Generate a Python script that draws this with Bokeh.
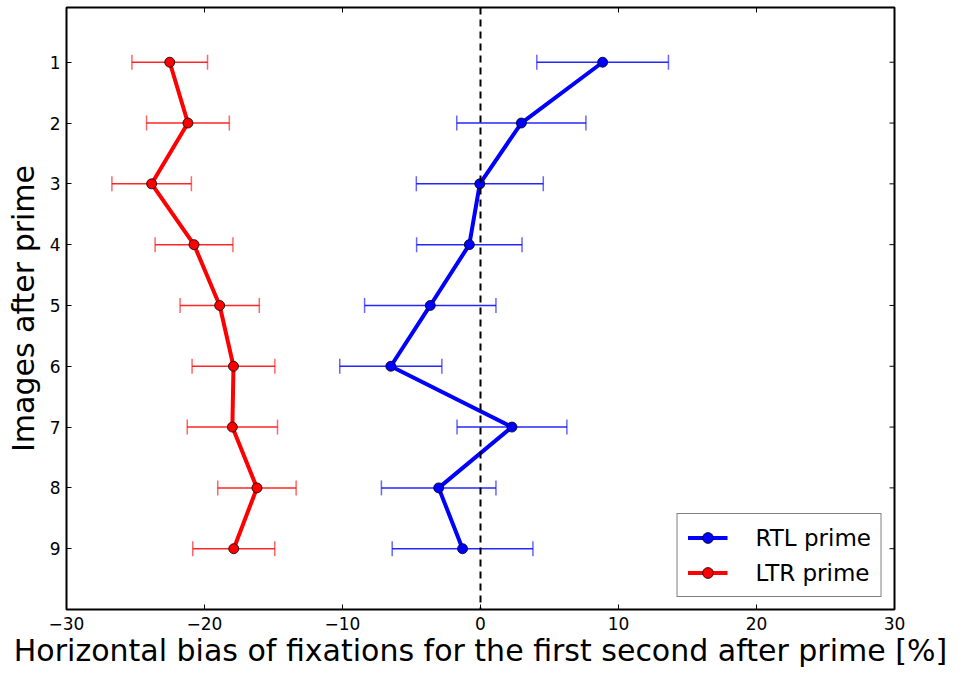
import math
from bokeh.plotting import figure
from bokeh.models import (Range1d, Whisker, TeeHead, ColumnDataSource,
                          Span, Legend, LegendItem)
from bokeh.embed import file_html
from bokeh.resources import INLINE

# ---- data ----
images = [1, 2, 3, 4, 5, 6, 7, 8, 9]
rtl_mean = [8.85, 2.96, -0.05, -0.81, -3.64, -6.5, 2.28, -3.03, -1.3]
rtl_err = [4.77, 4.68, 4.6, 3.82, 4.76, 3.7, 3.98, 4.15, 5.1]
ltr_mean = [-22.52, -21.2, -23.83, -20.76, -18.9, -17.9, -17.98, -16.2, -17.88]
ltr_err = [2.74, 3.0, 2.88, 2.82, 2.87, 3.0, 3.27, 2.84, 2.97]
x_ticks = [-30, -20, -10, 0, 10, 20, 30]
y_ticks = [1, 2, 3, 4, 5, 6, 7, 8, 9]
x_lim = (-30, 30)
y_lim = (10, 0.1)
series_names = ["RTL prime", "LTR prime"]

FONT = "DejaVu Sans"

p = figure(width=952, height=670, x_range=Range1d(*x_lim), y_range=Range1d(*y_lim),
           output_backend="svg", toolbar_location=None,
           min_border_left=66, min_border_right=58, min_border_top=7, min_border_bottom=40)
p.xgrid.visible = False
p.ygrid.visible = False
p.outline_line_color = "black"
p.outline_line_width = 2
p.background_fill_color = "white"
p.border_fill_color = "white"

overrides = {t: str(t).replace("-", "\u2212") for t in x_ticks}

for ax in (p.xaxis[0], p.yaxis[0]):
    ax.major_tick_in = 5
    ax.major_tick_out = 0
    ax.minor_tick_line_color = None
    ax.axis_line_color = None
    ax.major_tick_line_color = "black"
    ax.major_label_text_font = FONT
    ax.major_label_text_font_size = "17px"
    ax.major_label_text_color = "black"
    ax.axis_label_text_font = FONT
    ax.axis_label_text_font_style = "normal"
    ax.axis_label_text_color = "black"

p.xaxis.axis_label_text_font_size = "30px"
p.yaxis.axis_label_text_font_size = "30px"
p.xaxis.ticker = x_ticks
p.xaxis.major_label_overrides = overrides
p.yaxis.ticker = y_ticks
p.xaxis.major_label_standoff = 7
p.yaxis.major_label_standoff = 6
p.xaxis.axis_label = "Horizontal bias of fixations for the first second after prime [%]"
p.yaxis.axis_label = "Images after prime"
p.xaxis.axis_label_standoff = 0
p.yaxis.axis_label_standoff = 6

# mirrored inward ticks on top and right edges (clipped half of a dash marker)
p.scatter(x=x_ticks, y=[y_lim[1]] * len(x_ticks), marker="dash", angle=math.pi / 2,
          size=10, line_color="black", line_width=1)
p.scatter(x=[x_lim[1]] * len(y_ticks), y=y_ticks, marker="dash",
          size=10, line_color="black", line_width=1)

# zero line
p.add_layout(Span(location=0, dimension="height", line_color="black",
                  line_dash="7 5", line_width=2))

legend_items = []
for name, mean, err, color in ((series_names[0], rtl_mean, rtl_err, "blue"),
                               (series_names[1], ltr_mean, ltr_err, "red")):
    src = ColumnDataSource(dict(
        y=images, x=mean,
        lo=[m - e for m, e in zip(mean, err)],
        hi=[m + e for m, e in zip(mean, err)]))
    w = Whisker(source=src, base="y", lower="lo", upper="hi", dimension="width",
                line_color=color, line_width=1.5, line_alpha=0.85,
                upper_head=TeeHead(size=15, line_color=color, line_width=1.5, line_alpha=0.6),
                lower_head=TeeHead(size=15, line_color=color, line_width=1.5, line_alpha=0.6))
    p.add_layout(w)
    ln = p.line("x", "y", source=src, line_color=color, line_width=4)
    sc = p.scatter("x", "y", source=src, size=10, fill_color=color,
                   line_color="black", line_width=0.8)
    legend_items.append(LegendItem(label=name, renderers=[ln, sc]))

legend = Legend(items=legend_items, location="bottom_right")
legend.label_text_font = FONT
legend.label_text_font_size = "23px"
legend.label_text_color = "black"
legend.border_line_color = "black"
legend.border_line_width = 1.5
legend.glyph_width = 40
legend.glyph_height = 27
legend.label_height = 27
legend.label_standoff = 28
legend.spacing = 8
legend.padding = 10
legend.margin = 12
legend.background_fill_alpha = 1
p.add_layout(legend, "center")

open("out.html", "w").write(file_html(p, INLINE))
